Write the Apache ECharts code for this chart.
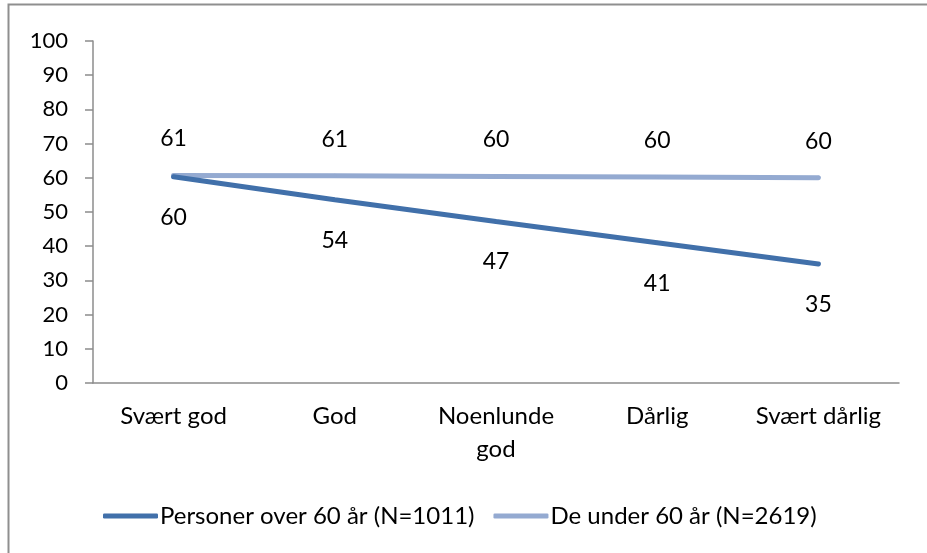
<!DOCTYPE html>
<html>
<head>
<meta charset="utf-8">
<script src="https://cdn.jsdelivr.net/npm/echarts@6/dist/echarts.min.js"></script>
<style>
	html, body { margin: 0; padding: 0; background: #fff; }
	#main { width: 927px; height: 553px; }
</style>
</head>
<body>
<div id="main"></div>
<script>
var categories = ['Svært god', 'God', 'Noenlunde\ngod', 'Dårlig', 'Svært dårlig'];
var seriesNames = ['Personer over 60 år (N=1011)', 'De under 60 år (N=2619)'];
var over60 = [60.3, 53.6, 47.2, 41.0, 34.8];
var under60 = [60.7, 60.6, 60.4, 60.2, 60.0];
var yTicks = { min: 0, max: 100, interval: 10 };

var font = 'Lato, "Open Sans", sans-serif';

var chart = echarts.init(document.getElementById('main'), null, { renderer: 'canvas' });

var option = {
	animation: false,
	backgroundColor: '#fff',
	color: ['#4170aa', '#94aad1'],
	graphic: [{
		type: 'rect',
		shape: { x: 8.5, y: 4.5, width: 1000, height: 1000 },
		style: { fill: 'none', stroke: '#8f8f8f', lineWidth: 2 },
		silent: true
	}],
	grid: {
		left: 93,
		right: 28,
		top: 41,
		bottom: 170
	},
	legend: {
		left: 98,
		top: 499,
		itemWidth: 55,
		itemHeight: 5,
		itemGap: 19,
		icon: 'roundRect',
		textStyle: { fontFamily: font, fontSize: 24, color: '#000', padding: [0, 0, 0, -3] },
		data: seriesNames
	},
	xAxis: {
		type: 'category',
		data: categories,
		axisLine: { lineStyle: { color: '#8c8c8c', width: 1.5 } },
		axisTick: { length: 8, lineStyle: { color: '#8c8c8c', width: 1.5 } },
		axisLabel: {
			margin: 17,
			fontFamily: font,
			fontSize: 24,
			color: '#000',
			lineHeight: 33,
			interval: 0
		}
	},
	yAxis: {
		type: 'value',
		min: yTicks.min,
		max: yTicks.max,
		interval: yTicks.interval,
		splitLine: { show: false },
		axisLine: { show: true, lineStyle: { color: '#8c8c8c', width: 1.5 } },
		axisTick: { show: true, length: 8, lineStyle: { color: '#8c8c8c', width: 1.5 } },
		axisLabel: {
			margin: 25,
			fontFamily: font,
			fontSize: 22,
			color: '#000'
		}
	},
	series: [{
		name: seriesNames[0],
		type: 'line',
		data: over60,
		symbol: 'circle',
		symbolSize: 4,
		showSymbol: true,
		lineStyle: { width: 5, cap: 'round' },
		z: 3,
		label: {
			show: true,
			position: 'bottom',
			distance: 27,
			fontFamily: font,
			fontSize: 23,
			color: '#000',
			formatter: function (p) { return Math.round(p.value); }
		}
	}, {
		name: seriesNames[1],
		type: 'line',
		data: under60,
		symbol: 'circle',
		symbolSize: 4,
		showSymbol: true,
		lineStyle: { width: 5, cap: 'round' },
		z: 2,
		label: {
			show: true,
			position: 'top',
			distance: 23,
			fontFamily: font,
			fontSize: 23,
			color: '#000',
			formatter: function (p) { return Math.round(p.value); }
		}
	}]
};

chart.setOption(option);
</script>
</body>
</html>
